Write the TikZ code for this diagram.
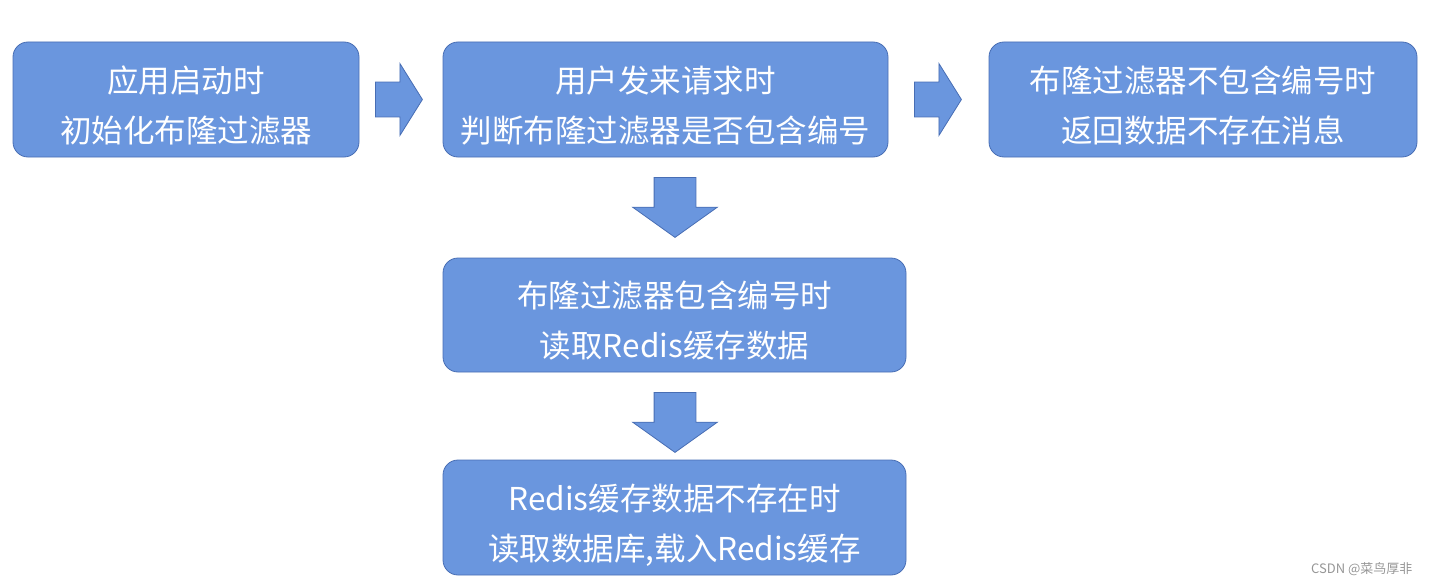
\documentclass[tikz,border=0pt]{standalone}
\usepackage{fontspec}
\setmainfont{Noto Sans CJK SC}
\usetikzlibrary{shapes.arrows}
\definecolor{boxfill}{RGB}{106,150,222}
\definecolor{boxline}{RGB}{72,110,180}
\definecolor{wmgrey}{RGB}{150,150,150}

\begin{document}
\begin{tikzpicture}[
    x=1pt, y=-1pt,
    stepbox/.style={rectangle, rounded corners=15pt, draw=boxline, fill=boxfill, line width=0.8pt,
                    text=white, align=center, minimum height=115pt,
                    font=\fontsize{31.5}{50}\selectfont, text height=90pt, text depth=5pt},
    harrow/.style={single arrow, draw=boxline, fill=boxfill, line width=0.8pt, anchor=tail,
                   minimum height=47pt, inner xsep=0pt, inner ysep=17pt,
                   single arrow head extend=18.5pt, single arrow tip angle=116},
    varrow/.style={single arrow, draw=boxline, fill=boxfill, line width=0.8pt, rotate=-90, anchor=tail,
                   minimum height=60pt, inner xsep=0pt, inner ysep=20.5pt,
                   single arrow head extend=21.5pt, single arrow tip angle=109}
]
    \useasboundingbox (0,0) rectangle (1438,586);

    % --- top row ---
    \node[stepbox, minimum width=346pt] (start) at (186,99.5) {应用启动时\\初始化布隆过滤器};
    \node[stepbox, minimum width=445pt] (req) at (665.5,99.5) {用户发来请求时\\判断布隆过滤器是否包含编号};
    \node[stepbox, minimum width=428pt] (miss) at (1203,99.5) {布隆过滤器不包含编号时\\返回数据不存在消息};

    \node[harrow] (a1) at (375,99.5) {};
    \node[harrow] (a2) at (914,99.5) {};

    % --- down the middle ---
    \node[stepbox, minimum width=463pt, minimum height=114pt] (hit) at (674.5,315) {布隆过滤器包含编号时\\读取Redis缓存数据};
    \node[stepbox, minimum width=463pt] (db) at (674.5,517.5) {Redis缓存数据不存在时\\读取数据库,载入Redis缓存};

    \node[varrow] (d1) at (675,177) {};
    \node[varrow] (d2) at (675,392) {};

    % watermark
    \node[text=wmgrey, font=\fontsize{13}{15}\selectfont, anchor=east] (wm) at (1416,569) {CSDN @菜鸟厚非};
\end{tikzpicture}
\end{document}
